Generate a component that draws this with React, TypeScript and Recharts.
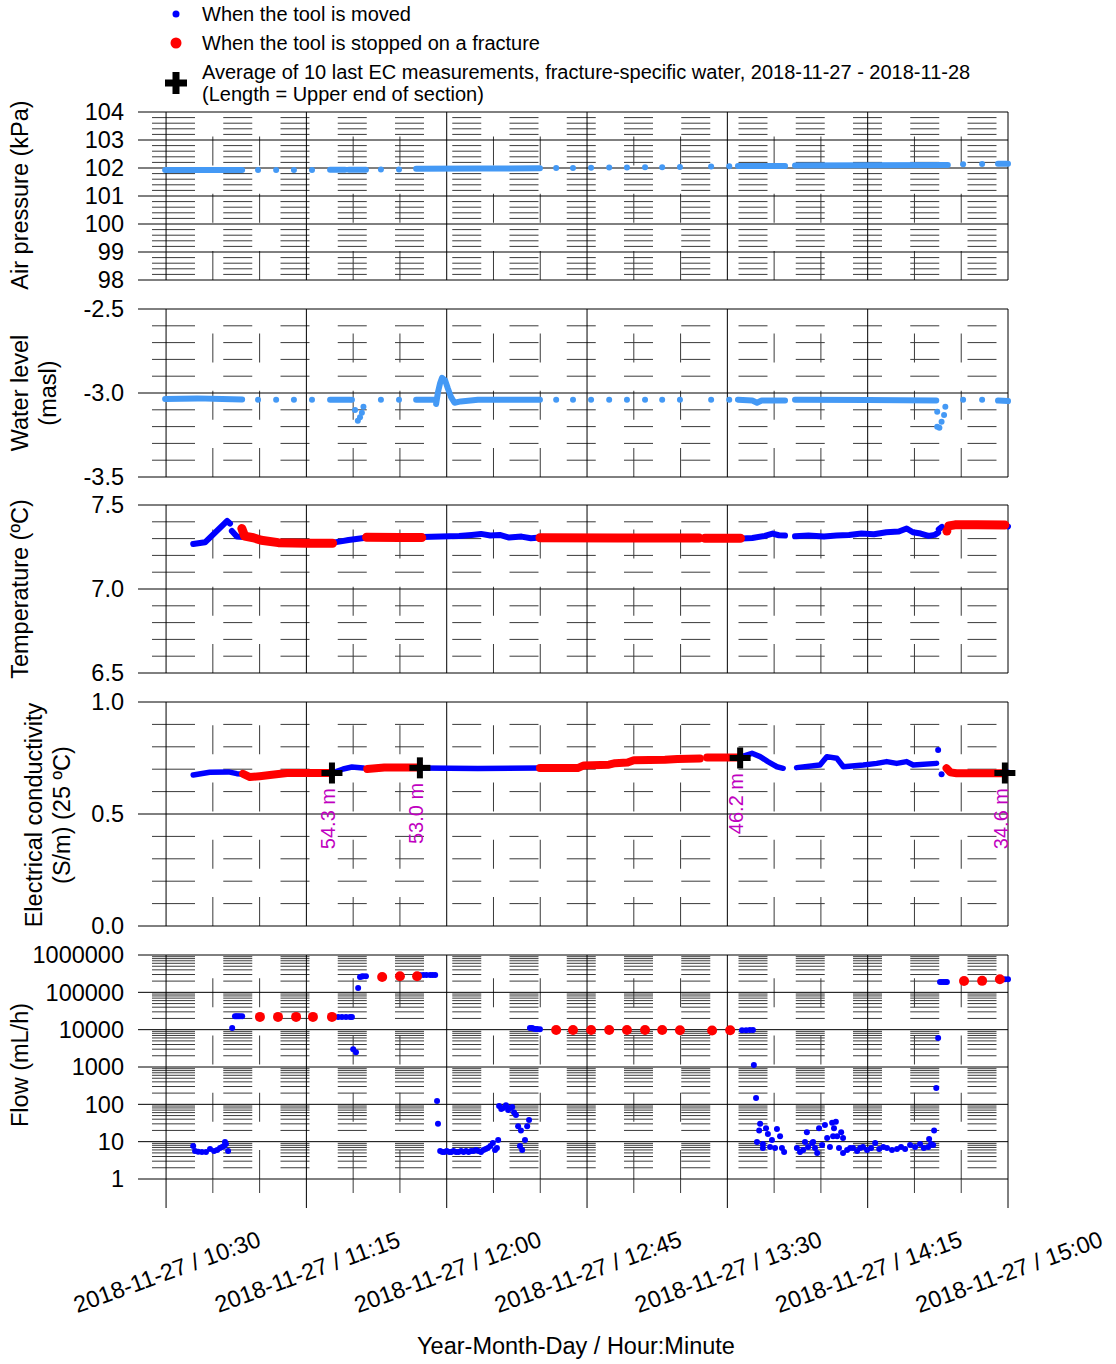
import React from 'react';
import { ComposedChart, Line, Scatter, XAxis, YAxis, CartesianGrid } from 'recharts';

const FONT = "'Liberation Sans', Arial, Helvetica, sans-serif";
const LIGHT_BLUE = '#4499f5';
const BLUE = '#0000ff';
const RED = '#ff0000';
const MAGENTA = '#c000c0';
const GRID_MINOR = '#3a3a3a';
const DATE_LABEL = '2018-11-27';

type P = [number, number];

// Time axis: minutes after 10:00 on 2018-11-27
const TIME_DOMAIN: [number, number] = [21, 300];
const MAJOR_TIMES = [30, 75, 120, 165, 210, 255, 300];
const MINOR_TIMES = [45, 60, 90, 105, 135, 150, 180, 195, 225, 240, 270, 285];
const ALL_TIMES = [30, 45, 60, 75, 90, 105, 120, 135, 150, 165, 180, 195, 210, 225, 240, 255, 270, 285, 300];

// Y tick labels per panel
const AIR_TICKS = [98, 99, 100, 101, 102, 103, 104];
const WATER_TICKS = [-3.5, -3.0, -2.5];
const TEMP_TICKS = [6.5, 7.0, 7.5];
const EC_TICKS = [0, 0.5, 1.0];
const FLOW_TICKS = [1, 10, 100, 1000, 10000, 100000, 1000000];

// ---- Air pressure (kPa) ----
const airRuns: P[][] = [
  [[29.7, 101.93], [42, 101.93], [54.4, 101.93]],
  [[82.6, 101.94], [87.4, 101.94]],
  [[88.6, 101.94], [94.1, 101.94]],
  [[110.2, 101.97], [130, 101.98], [149.9, 101.99]],
  [[213.4, 102.07], [228.5, 102.07]],
  [[231.7, 102.09], [255, 102.1], [280.7, 102.11]],
  [[296.8, 102.15], [300, 102.15]],
];
const airDots: P[] = [
  [59.5, 101.93], [65.3, 101.93], [71.0, 101.93], [76.8, 101.93],
  [98.9, 101.95], [104.7, 101.95],
  [155.1, 102.0], [160.5, 102.0], [166.3, 102.01], [172.1, 102.02], [177.8, 102.02],
  [183.6, 102.03], [189.1, 102.03], [194.8, 102.04],
  [204.8, 102.05], [210.6, 102.06],
  [285.6, 102.13], [291.7, 102.14],
];

// ---- Water level (masl) ----
const waterRuns: P[][] = [
  [[29.7, -3.036], [40, -3.032], [48, -3.036], [54.4, -3.038]],
  [[82.6, -3.04], [89.0, -3.04]],
  [[110.2, -3.04], [116.3, -3.04]],
  [[116.6, -3.065], [117.2, -2.995], [117.9, -2.94], [118.5, -2.91], [119.5, -2.925], [120.4, -2.975],
   [121.4, -3.025], [122.5, -3.058], [124.5, -3.05], [130, -3.04], [149.9, -3.04]],
  [[213.4, -3.04], [218, -3.045], [219.5, -3.058], [221, -3.045], [228.5, -3.045]],
  [[231.7, -3.04], [255, -3.042], [277.0, -3.045]],
  [[296.8, -3.045], [300, -3.048]],
];
const waterDots: P[] = [
  [59.5, -3.04], [65.3, -3.04], [71.0, -3.04], [76.8, -3.04],
  [89.6, -3.04], [90.6, -3.101], [93.3, -3.082], [92.8, -3.117], [92.2, -3.145], [91.5, -3.165],
  [98.9, -3.04], [104.7, -3.04],
  [155.1, -3.04], [160.5, -3.04], [166.3, -3.04], [172.1, -3.04], [177.8, -3.04],
  [183.6, -3.04], [189.1, -3.04], [194.8, -3.04],
  [204.8, -3.04], [210.6, -3.04],
  [277.3, -3.111], [279.9, -3.082], [279.5, -3.131], [278.7, -3.171], [278.0, -3.207], [277.3, -3.201],
  [285.6, -3.04], [291.7, -3.04],
];

// ---- Temperature (°C) ----
const tempMovedRuns: P[][] = [
  [[38.7, 7.268], [42.5, 7.278], [49.6, 7.405], [50.5, 7.39]],
  [[51.1, 7.345], [52.7, 7.312], [54.8, 7.31]],
  [[83.6, 7.276], [86.5, 7.285], [88.5, 7.292], [91, 7.298], [94, 7.305]],
  [[112.1, 7.31], [118, 7.312], [124, 7.315], [128, 7.322], [131, 7.328], [134, 7.318], [137, 7.322],
   [140, 7.306], [144, 7.312], [147, 7.302], [149.9, 7.306]],
  [[214.7, 7.3], [218, 7.304], [222, 7.316], [224.5, 7.33], [226.5, 7.32], [228.5, 7.318]],
  [[231.7, 7.314], [236, 7.318], [241, 7.312], [245, 7.318], [249, 7.322], [253, 7.33], [257, 7.326],
   [261, 7.338], [265, 7.342], [267.5, 7.36], [269.5, 7.338], [272, 7.33], [274.5, 7.316], [276.5, 7.322], [277.6, 7.335]],
  [[277.8, 7.355], [278.8, 7.37]],
  [[299, 7.378], [300, 7.372]],
];
const tempStoppedRuns: P[][] = [
  [[54.3, 7.36], [55.2, 7.315], [58, 7.305], [60.5, 7.29], [66, 7.276], [75, 7.272], [83.4, 7.272]],
  [[94.3, 7.308], [105, 7.307], [112, 7.306]],
  [[149.9, 7.305], [175, 7.303], [201, 7.303]],
  [[202.8, 7.302], [214.2, 7.302]],
  [[281, 7.376], [283, 7.382], [290, 7.382], [299, 7.381]],
];
const tempStoppedDots: P[] = [[280.4, 7.345]];

// ---- Electrical conductivity (S/m) ----
const ecMovedRuns: P[][] = [
  [[38.7, 0.674], [44, 0.686], [50, 0.688], [52.7, 0.68], [54.3, 0.679]],
  [[83.6, 0.685], [86.8, 0.701], [89.6, 0.71], [93.2, 0.705]],
  [[111.4, 0.705], [130, 0.703], [149.9, 0.705]],
  [[214.1, 0.754], [217.9, 0.771], [220.5, 0.756], [223.0, 0.734], [225.9, 0.711], [227.9, 0.704]],
  [[232.2, 0.707], [239.7, 0.719], [241.9, 0.756], [245.1, 0.749], [247.2, 0.711], [253.6, 0.719],
   [257.9, 0.726], [261.1, 0.734], [264.3, 0.726], [267.5, 0.734], [269.6, 0.719], [277.1, 0.726]],
  [[299, 0.684], [300, 0.686]],
];
const ecMovedDots: P[] = [[277.6, 0.786], [278.7, 0.677]];
const ecStoppedRuns: P[][] = [
  [[54.7, 0.679], [56.9, 0.665], [60, 0.669], [63.3, 0.674], [68.8, 0.683], [83.2, 0.683]],
  [[94.5, 0.701], [100, 0.708], [111.4, 0.708]],
  [[149.9, 0.705], [162, 0.705], [164, 0.717], [172, 0.72], [174, 0.727], [178, 0.73], [180, 0.74],
   [190, 0.742], [194, 0.746], [201.2, 0.748]],
  [[203.5, 0.752], [214.1, 0.752]],
  [[280.3, 0.704], [281.5, 0.686], [283.5, 0.682], [299, 0.682]],
];
// Average of the last 10 EC readings at each fracture
const ecAvgTime = [83.2, 111.4, 214.1, 299.0];
const ecAvgValue = [0.683, 0.706, 0.75, 0.683];
const ecAvgDepth = [54.3, 53.0, 46.2, 34.6];

// ---- Flow (mL/h) ----
const flowMoved: P[] = [
  [38.7, 7.7], [39.3, 5.6], [40.3, 5.4], [41.5, 5.3], [42.8, 5.3], [44.1, 6.4], [45.4, 5.6], [46.4, 6.0],
  [47.3, 6.8], [48.0, 7.2], [48.6, 7.7], [48.9, 9.8], [49.2, 8.7], [49.9, 5.6],
  [51.2, 11100], [52.1, 23000], [52.6, 23000], [53.1, 23000], [53.7, 23000], [54.4, 23000],
  [85.2, 22000], [86.4, 22000], [87.7, 22000], [89.0, 22000], [89.6, 22000],
  [90.0, 3000], [90.9, 2500],
  [91.6, 131000], [92.2, 258000], [92.7, 265000], [93.2, 270000], [94.1, 270000],
  [111.4, 290000], [112.5, 290000], [113.5, 290000], [114.7, 290000], [115.5, 290000], [116.3, 290000],
  [116.9, 122], [117.2, 30],
  [117.9, 5.6], [118.6, 5.3], [119.3, 5.3], [120, 5.6], [120.8, 5.3], [121.5, 5.3], [122.2, 5.6],
  [123, 5.3], [123.8, 5.3], [124.6, 5.6], [125.4, 5.3], [126.2, 5.6], [127, 5.3], [127.8, 5.6],
  [128.6, 5.6], [129.4, 6.0], [130.2, 5.6], [131, 5.3], [131.8, 6.0], [132.5, 6.4], [133.2, 6.8],
  [134, 7.7], [134.8, 9.2], [135.5, 6.0], [136.1, 6.8],
  [136.5, 11], [136.8, 90], [137.5, 75], [138.1, 80], [139.0, 95], [139.7, 70], [140.3, 80], [141.0, 85],
  [141.6, 60], [142.2, 52], [142.9, 26], [143.5, 7.7], [143.8, 20], [144.2, 6], [145.1, 11], [145.8, 26], [146.4, 38],
  [146.7, 11100], [147.3, 11100], [147.7, 10800], [148.4, 10500], [149.0, 10500], [149.9, 10300],
  [214.7, 9600], [216, 9700], [217.2, 9800], [218.2, 9800],
  [218.5, 1130], [219.2, 148],
  [220.5, 30], [220.2, 20], [222.4, 23], [223.0, 16], [219.5, 9.8], [221.4, 8.7], [224.3, 11], [225.9, 22],
  [226.9, 14], [223.7, 7.2], [225.3, 6.8], [227.5, 6.8], [228.2, 5.3], [221.4, 6.8],
  [232.3, 6.8], [233.3, 5.3], [234.3, 6.0], [234.9, 9.8], [235.5, 18], [235.9, 7.2], [237.2, 9.2], [237.5, 9.8],
  [238.1, 6.8], [238.8, 5.0], [239.4, 23], [240.4, 8.1], [241.3, 28], [242.0, 12.5], [242.9, 7.2],
  [243.6, 32], [243.9, 14], [244.2, 23], [244.8, 34], [245.2, 14], [245.8, 6.8], [246.5, 18], [247.1, 12.5],
  [247.1, 5.0], [248.4, 6.0], [249.4, 6.8], [250.3, 6.8], [251.6, 5.6], [252.6, 6.8], [253.5, 7.2],
  [254.8, 6.0], [256.1, 6.8], [257.4, 9.2], [258.7, 6.4], [260.0, 7.2], [261.2, 6.8], [262.8, 6.0],
  [264.4, 6.4], [265.7, 7.2], [267.0, 6.4], [268.6, 8.1], [270.2, 7.2], [271.8, 8.7], [273.0, 6.8],
  [274.4, 7.2], [275.3, 8.7], [276.0, 8.1],
  [274.7, 11.8], [276.3, 20], [277.0, 275], [277.6, 6000],
  [278.2, 190000], [278.8, 190000], [279.4, 190000], [280.0, 190000], [280.4, 190000],
  [299.0, 225000], [300, 225000],
];
const flowStopped: P[] = [
  [60.1, 22000], [65.9, 22000], [71.7, 22000], [77.1, 22000], [83.2, 22000],
  [99.3, 258000], [105.0, 270000], [110.5, 270000],
  [155.1, 9800], [160.5, 9800], [166.3, 9800], [172.1, 9800], [177.8, 9800], [183.6, 9800],
  [189.1, 9800], [194.8, 9600], [205.1, 9500], [210.9, 9600],
  [285.9, 201000], [291.7, 203000], [297.4, 224000],
];

// ---------------- helpers ----------------
const rows = (pts: P[]) => pts.map(([t, v]) => ({ t, v }));

const stepValues = (lo: number, hi: number, step: number, skip: number[]) => {
  const out: number[] = [];
  const n = Math.round((hi - lo) / step);
  for (let i = 0; i <= n; i++) {
    const v = Math.round((lo + i * step) * 1000) / 1000;
    if (!skip.some((s) => Math.abs(s - v) < 1e-6)) out.push(v);
  }
  return out;
};
const logMinor = () => {
  const out: number[] = [];
  for (let d = 1; d < 1000000; d *= 10) for (let k = 2; k <= 9; k++) out.push(k * d);
  return out;
};

const PERIOD_DASH = 29;
const PERIOD_GAP = 28.25;
const horizontalDash = () => {
  const parts = [0, 14, 43];
  let len = 57;
  while (len < 1000) {
    parts.push(PERIOD_GAP, PERIOD_DASH);
    len += PERIOD_GAP + PERIOD_DASH;
  }
  return parts.join(' ');
};
// vertical grid lines are drawn top -> bottom; keep a full dash ending at the bottom edge
const verticalDash = (h: number) => {
  const lead = (h - PERIOD_DASH) % (PERIOD_DASH + PERIOD_GAP);
  const parts = [0, lead, PERIOD_DASH];
  let len = lead + PERIOD_DASH;
  while (len < h + 100) {
    parts.push(PERIOD_GAP, PERIOD_DASH);
    len += PERIOD_GAP + PERIOD_DASH;
  }
  return parts.join(' ');
};

const fmtTime = (t: number) => {
  const total = 600 + t;
  const h = Math.floor(total / 60);
  const m = Math.round(total % 60);
  return `${DATE_LABEL} / ${h}:${String(m).padStart(2, '0')}`;
};

const TimeTick = (props: any) => {
  const { x, y, payload } = props;
  const major = MAJOR_TIMES.includes(payload.value);
  const lx = x + 1;
  const ly = y + 93;
  return (
    <g>
      <line x1={x} y1={y} x2={x} y2={y + (major ? 29 : 14)} stroke={major ? '#000' : GRID_MINOR} strokeWidth={1} />
      {major && (
        <text
          x={lx}
          y={ly}
          textAnchor="middle"
          dominantBaseline="central"
          fontSize={23.5}
          fontFamily={FONT}
          fill="#000"
          transform={`rotate(-20 ${lx} ${ly})`}
        >
          {fmtTime(payload.value)}
        </text>
      )}
    </g>
  );
};

// time axis of the upper panels: keeps the scale, draws nothing
const EmptyTick = () => <g />;

const runLines = (runs: P[][], color: string, width: number, key: string) =>
  runs.map((run, i) => (
    <Line
      key={`${key}-${i}`}
      data={rows(run)}
      dataKey="v"
      type="linear"
      stroke={color}
      strokeWidth={width}
      strokeLinecap="round"
      strokeLinejoin="round"
      dot={false}
      activeDot={false}
      isAnimationActive={false}
    />
  ));

const dots = (pts: P[], color: string, r: number, key: string) => (
  <Scatter
    key={key}
    data={rows(pts)}
    dataKey="v"
    isAnimationActive={false}
    shape={(p: any) => <circle cx={p.cx} cy={p.cy} r={r} fill={color} />}
  />
);

const PlusMark = ({ cx, cy, size = 22, arm = 6 }: { cx: number; cy: number; size?: number; arm?: number }) => (
  <g>
    <rect x={cx - size / 2} y={cy - arm / 2} width={size} height={arm} fill="#000" />
    <rect x={cx - arm / 2} y={cy - size / 2} width={arm} height={size} fill="#000" />
  </g>
);

const AvgShape = (p: any) => {
  const { cx, cy, payload } = p;
  const tx = cx + 3;
  const ty = cy + 15;
  return (
    <g>
      <PlusMark cx={cx} cy={cy} size={21} arm={6} />
      <text
        x={tx}
        y={ty}
        textAnchor="end"
        fontSize={20}
        fontFamily={FONT}
        fill={MAGENTA}
        transform={`rotate(-90 ${tx} ${ty})`}
      >
        {`${payload.depth.toFixed(1)} m`}
      </text>
    </g>
  );
};

type PanelSpec = {
  top: number;
  height: number;
  marginTop: number;
  marginBottom: number;
  plotHeight: number;
  domain: [number, number];
  ticks: number[];
  minor: number[];
  log?: boolean;
  fmt: (v: number) => string;
  showTime?: boolean;
  children: React.ReactNode;
};

const Panel = ({ top, height, marginTop, marginBottom, plotHeight, domain, ticks, minor, log, fmt, showTime, children }: PanelSpec) => (
  <div style={{ position: 'absolute', left: 0, top }}>
    <ComposedChart
      width={1116}
      height={height}
      margin={{ top: marginTop, right: 108, bottom: marginBottom, left: 0 }}
    >
      <CartesianGrid
        vertical={false}
        horizontalValues={minor}
        stroke={GRID_MINOR}
        strokeWidth={1}
        strokeDasharray={horizontalDash()}
      />
      <CartesianGrid
        horizontal={false}
        verticalValues={MINOR_TIMES}
        stroke={GRID_MINOR}
        strokeWidth={1}
        strokeDasharray={verticalDash(plotHeight)}
      />
      <CartesianGrid vertical={false} horizontalValues={ticks} stroke="#000" strokeWidth={1} />
      <CartesianGrid horizontal={false} verticalValues={MAJOR_TIMES} stroke="#000" strokeWidth={1} />
      <XAxis
        type="number"
        dataKey="t"
        domain={TIME_DOMAIN}
        ticks={ALL_TIMES}
        interval={0}
        axisLine={false}
        tickLine={false}
        tickSize={0}
        tickMargin={0}
        height={showTime ? 170 : 1}
        tick={showTime ? <TimeTick /> : <EmptyTick />}
      />
      <YAxis
        type="number"
        dataKey="v"
        scale={log ? 'log' : 'linear'}
        domain={domain}
        ticks={ticks}
        interval={0}
        width={138}
        axisLine={false}
        tickLine={false}
        tickSize={0}
        tickMargin={14}
        tickFormatter={fmt}
        tick={{ fontSize: 23.5, fill: '#000', fontFamily: FONT }}
      />
      {children}
    </ComposedChart>
  </div>
);

const TITLE_SIZE = 23.5;

const Overlay = () => (
  <svg width={1116} height={1364} style={{ position: 'absolute', left: 0, top: 0, pointerEvents: 'none' }}>
    <g fontFamily={FONT} fill="#000">
      {/* legend */}
      <circle cx={176} cy={14} r={3.5} fill={BLUE} />
      <text x={202} y={21} fontSize={20}>When the tool is moved</text>
      <circle cx={176} cy={43} r={5.5} fill={RED} />
      <text x={202} y={50} fontSize={20}>When the tool is stopped on a fracture</text>
      <PlusMark cx={176} cy={83} size={22} arm={7} />
      <text x={202} y={79} fontSize={20}>
        Average of 10 last EC measurements, fracture-specific water, 2018-11-27 - 2018-11-28
      </text>
      <text x={202} y={101} fontSize={20}>(Length = Upper end of section)</text>

      {/* axis titles */}
      <text x={28} y={195} fontSize={TITLE_SIZE} textAnchor="middle" transform="rotate(-90 28 195)">
        Air pressure (kPa)
      </text>
      <text x={28} y={393} fontSize={TITLE_SIZE} textAnchor="middle" transform="rotate(-90 28 393)">
        Water level
      </text>
      <text x={56} y={393} fontSize={TITLE_SIZE} textAnchor="middle" transform="rotate(-90 56 393)">
        (masl)
      </text>
      <text x={28} y={589} fontSize={TITLE_SIZE} textAnchor="middle" transform="rotate(-90 28 589)">
        Temperature (ºC)
      </text>
      <text x={42} y={815} fontSize={TITLE_SIZE} textAnchor="middle" transform="rotate(-90 42 815)">
        Electrical conductivity
      </text>
      <text x={70} y={815} fontSize={TITLE_SIZE} textAnchor="middle" transform="rotate(-90 70 815)">
        (S/m) (25 ºC)
      </text>
      <text x={28} y={1065} fontSize={TITLE_SIZE} textAnchor="middle" transform="rotate(-90 28 1065)">
        Flow (mL/h)
      </text>
      <text x={576} y={1354} fontSize={TITLE_SIZE} textAnchor="middle">
        Year-Month-Day / Hour:Minute
      </text>
    </g>
  </svg>
);

const ecAvgRows = ecAvgTime.map((t, i) => ({ t, v: ecAvgValue[i], depth: ecAvgDepth[i] }));

export default function App() {
  return (
    <div style={{ position: 'absolute', left: 0, top: 0, width: 1116, height: 1364, background: '#fff', fontFamily: FONT }}>
      <Panel
        top={95}
        height={200}
        marginTop={17}
        marginBottom={14}
        plotHeight={168}
        domain={[98, 104]}
        ticks={AIR_TICKS}
        minor={stepValues(98, 104, 0.2, AIR_TICKS)}
        fmt={(v) => String(v)}
      >
        {runLines(airRuns, LIGHT_BLUE, 6, 'air')}
        {dots(airDots, LIGHT_BLUE, 3, 'air-dots')}
      </Panel>

      <Panel
        top={295}
        height={196}
        marginTop={14}
        marginBottom={13}
        plotHeight={168}
        domain={[-3.5, -2.5]}
        ticks={WATER_TICKS}
        minor={stepValues(-3.5, -2.5, 0.1, WATER_TICKS)}
        fmt={(v) => v.toFixed(1)}
      >
        {runLines(waterRuns, LIGHT_BLUE, 6, 'water')}
        {dots(waterDots, LIGHT_BLUE, 3, 'water-dots')}
      </Panel>

      <Panel
        top={491}
        height={196}
        marginTop={14}
        marginBottom={13}
        plotHeight={168}
        domain={[6.5, 7.5]}
        ticks={TEMP_TICKS}
        minor={stepValues(6.5, 7.5, 0.1, TEMP_TICKS)}
        fmt={(v) => v.toFixed(1)}
      >
        {runLines(tempMovedRuns, BLUE, 6, 'temp-moved')}
        {runLines(tempStoppedRuns, RED, 9, 'temp-stopped')}
        {dots(tempStoppedDots, RED, 4.5, 'temp-stopped-dots')}
      </Panel>

      <Panel
        top={687}
        height={253}
        marginTop={15}
        marginBottom={13}
        plotHeight={224}
        domain={[0, 1]}
        ticks={EC_TICKS}
        minor={stepValues(0, 1, 0.1, EC_TICKS)}
        fmt={(v) => v.toFixed(1)}
      >
        {runLines(ecMovedRuns, BLUE, 5.5, 'ec-moved')}
        {dots(ecMovedDots, BLUE, 3, 'ec-moved-dots')}
        {runLines(ecStoppedRuns, RED, 8, 'ec-stopped')}
        <Scatter key="ec-avg" data={ecAvgRows} dataKey="v" isAnimationActive={false} shape={AvgShape} />
      </Panel>

      <Panel
        top={940}
        height={424}
        marginTop={15}
        marginBottom={15}
        plotHeight={224}
        domain={[1, 1000000]}
        ticks={FLOW_TICKS}
        minor={logMinor()}
        log
        fmt={(v) => String(v)}
        showTime
      >
        {dots(flowMoved, BLUE, 3, 'flow-moved')}
        {dots(flowStopped, RED, 5, 'flow-stopped')}
      </Panel>

      <Overlay />
    </div>
  );
}
